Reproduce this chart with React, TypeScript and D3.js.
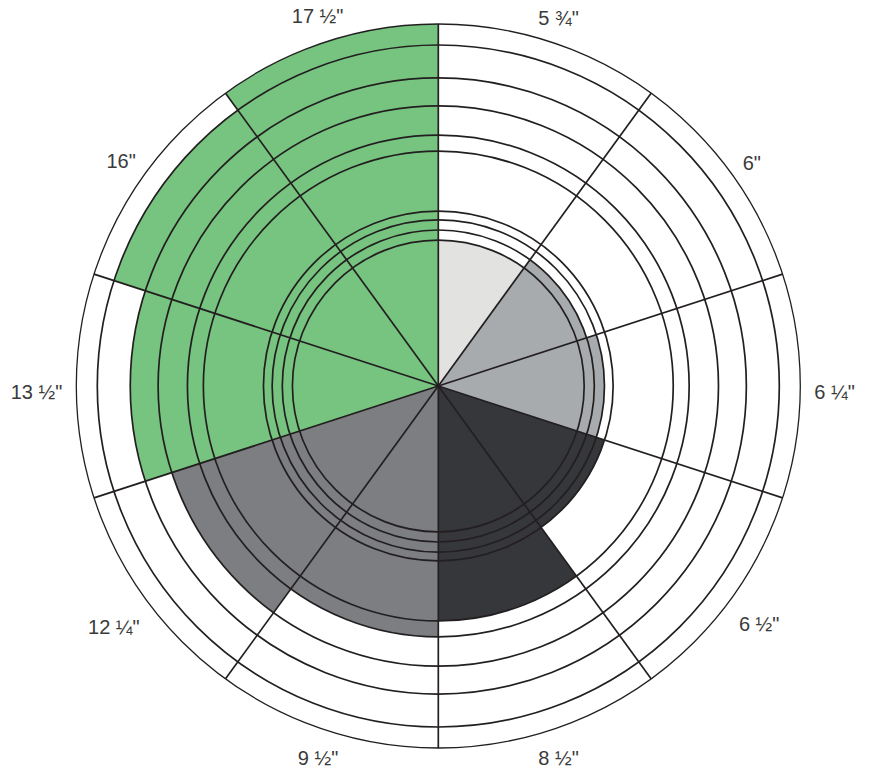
import React from "react";
import * as d3 from "d3";

const labels = ["5 ¾\"", "6\"", "6 ¼\"", "6 ½\"", "8 ½\"", "9 ½\"", "12 ¼\"", "13 ½\"", "16\"", "17 ½\""];
const values = [40.3, 43.1, 45.9, 48.3, 64.9, 69.3, 77.4, 85.1, 94.2, 100];
const colors = ["#e2e2e1", "#a8abae", "#a8abae", "#36373b", "#36373b", "#7c7e81", "#7c7e81", "#76c47f", "#76c47f", "#76c47f"];

const W = 874;
const H = 771;
const cx = 438.3;
const cy = 386;
const R = 362;
const FAMILY = "'Liberation Sans', Arial, Helvetica, sans-serif";
const SIZE = 20;

function measure(text: string): number {
  if (typeof document === "undefined") return text.length * 10;
  const c = document.createElement("canvas").getContext("2d");
  if (!c) return text.length * 10;
  c.font = `${SIZE}px ${FAMILY}`;
  return c.measureText(text).width;
}

export default function App() {
  const n = labels.length;
  const angle = d3.scaleBand<number>().domain(d3.range(n)).range([0, 2 * Math.PI]).paddingInner(0).paddingOuter(0);
  const radius = d3.scaleLinear().domain([0, 100]).range([0, R]);
  const arc = d3.arc<number>()
    .innerRadius(0)
    .outerRadius((i) => radius(values[i]))
    .startAngle((i) => angle(i)!)
    .endAngle((i) => angle(i)! + angle.bandwidth());

  const stroke = "#231f20";
  const R0 = 376;
  const th = 14.3;

  return (
    <svg width={W} height={H} style={{ position: "absolute", left: 0, top: 0 }}>
      <rect width={W} height={H} fill="#ffffff" />
      <g transform={`translate(${cx},${cy})`}>
        {d3.range(n).map((i) => (
          <path key={"s" + i} d={arc(i) || ""} fill={colors[i]} />
        ))}
        {values.map((v, i) => (
          <circle key={"c" + i} r={radius(v)} fill="none" stroke={stroke} strokeWidth={i === n - 1 ? 1.3 : 1.7} />
        ))}
        {d3.range(n).map((i) => {
          const a = angle(i)!;
          return (
            <line key={"l" + i} x1={0} y1={0} x2={R * Math.sin(a)} y2={-R * Math.cos(a)} stroke={stroke} strokeWidth={1.7} />
          );
        })}
        {labels.map((t, i) => {
          const a = angle(i)! + angle.bandwidth() / 2;
          const w = measure(t);
          const s = Math.sin(a);
          const c = Math.cos(a);
          const rr = R0 + (w / 2) * Math.abs(s) + (th / 2) * Math.abs(c);
          const x = rr * s;
          const y = -rr * c + 6 * Math.abs(s);
          return (
            <text key={"t" + i} x={x} y={y + th / 2} textAnchor="middle" fill="#3a3a3a"
              fontFamily={FAMILY} fontSize={SIZE}>{t}</text>
          );
        })}
      </g>
    </svg>
  );
}
